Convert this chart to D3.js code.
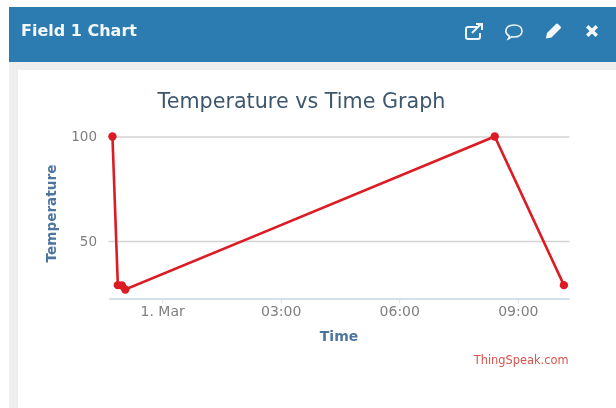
<!DOCTYPE html>
<html>
<head>
<meta charset="utf-8">
<script src="https://cdn.jsdelivr.net/npm/d3@7"></script>
<style>
html, body { margin: 0; padding: 0; background: #fff; overflow: hidden; }
svg { display: block; filter: blur(0.45px); }
text { font-family: "DejaVu Sans", sans-serif; }
</style>
</head>
<body>
<div id="chart"></div>
<script>
"use strict"
var width = 616,
	height = 408;

// values
var times = ["2021-02-28T22:44:30Z","2021-02-28T22:52:40Z","2021-02-28T22:58:50Z","2021-02-28T23:04:00Z","2021-03-01T08:25:00Z","2021-03-01T10:10:00Z"];
var temps = [100,28.8,28.6,26.7,100,28.8];
var yTicks = [50,100];
var xTicks = ["2021-03-01T00:00:00Z","2021-03-01T03:00:00Z","2021-03-01T06:00:00Z","2021-03-01T09:00:00Z"];
var xTickLabels = ["1. Mar","03:00","06:00","09:00"];

var parse = d3.utcParse("%Y-%m-%dT%H:%M:%SZ");

var svg = d3.select("#chart").append("svg")
	.attr("width",width)
	.attr("height",height);

// panel
svg.append("rect").attr("x",9).attr("y",7).attr("width",607).attr("height",401).style("fill","#eeeeee");
svg.append("rect").attr("x",18).attr("y",70).attr("width",598).attr("height",338).style("fill","#fff");
svg.append("rect").attr("x",9).attr("y",7).attr("width",607).attr("height",55).style("fill","#2c7bb1");

svg.append("text")
	.attr("x",21)
	.attr("y",36)
	.style("font-size","16px")
	.style("font-weight","bold")
	.style("fill","#f4f8fb")
	.text("Field 1 Chart");

// header icons
var icons = svg.append("g").style("fill","none").style("stroke","#eef5fa").style("stroke-width",2);
icons.append("path").attr("d","M477 27h-9a2 2 0 0 0 -2 2v8a2 2 0 0 0 2 2h10a2 2 0 0 0 2 -2v-4");
icons.append("path").attr("d","M472 33l9 -9M476 24h6v6");
icons.append("path").attr("d","M514 25c5 0 8 2.600 8 6s-3 6 -8 6c-1 0 -2 0 -2.500 -.2c-1 1 -2 1.800 -3.200 2.200c.6 -1 1 -2 1 -3c-2 -1 -3.500 -3 -3.500 -5c0 -3.400 3.200 -6 8.200 -6z").style("stroke-width",1.6);
var solid = svg.append("g").style("fill","#f4f8fb");
solid.append("path").attr("d","M546 38l1 -5l9 -9a1.500 1.500 0 0 1 2 0l2.500 2.500a1.500 1.500 0 0 1 0 2l-9 9l-5.500 1z");
solid.append("path").attr("d","M588.500 25l3.500 3.500l3.500 -3.500l2.500 2.500l-3.500 3.500l3.500 3.500l-2.500 2.500l-3.500 -3.500l-3.500 3.500l-2.500 -2.500l3.500 -3.500l-3.500 -3.500z");

// scales
var xscale = d3.scaleUtc()
	.domain([parse("2021-02-28T22:38:30Z"),parse("2021-03-01T10:18:30Z")])
	.range([108.5,569.5]);
var yscale = d3.scaleLinear()
	.domain([22.4,100])
	.range([298.5,136.5]);

// gridlines
var yAxis = d3.axisLeft(yscale)
	.tickValues(yTicks)
	.tickSize(-(xscale.range()[1]-xscale.range()[0]))
	.tickPadding(11.5);
var gy = svg.append("g")
	.attr("transform","translate(108.5,0)")
	.call(yAxis);
gy.select(".domain").remove();
gy.selectAll("line").style("stroke","#d2d2d2").style("stroke-width",1.5);
gy.selectAll("text").style("font-size","13.5px").style("fill","#807f7f");

// x axis
var xAxis = d3.axisBottom(xscale)
	.tickValues(xTicks.map(parse))
	.tickFormat(function(d,i) { return xTickLabels[i]; })
	.tickSize(5)
	.tickSizeOuter(0)
	.tickPadding(3);
var gx = svg.append("g")
	.attr("transform","translate(0,298.5)")
	.call(xAxis);
gx.select(".domain").style("stroke","#c5d6e6").style("stroke-width",1.5);
gx.selectAll("line").style("stroke","#d5e1ec");
gx.selectAll("text").style("font-size","14px").style("fill","#807f7f");

// series
var points = times.map(function(t,i) { return {t:parse(t),v:temps[i]}; });
var line = d3.line()
	.x(function(d) { return xscale(d.t); })
	.y(function(d) { return yscale(d.v); });
svg.append("path")
	.datum(points)
	.attr("d",line)
	.style("fill","none")
	.style("stroke","#dc1c24")
	.style("stroke-width",2.6);
svg.selectAll(".pt")
	.data(points)
	.enter().append("circle")
	.attr("class","pt")
	.attr("cx",function(d) { return xscale(d.t); })
	.attr("cy",function(d) { return yscale(d.v); })
	.attr("r",4.2)
	.style("fill","#dc1c24");

// titles
svg.append("text")
	.attr("x",301.5)
	.attr("y",108)
	.attr("text-anchor","middle")
	.style("font-size","20.7px")
	.style("fill","#3e576f")
	.text("Temperature vs Time Graph");
svg.append("text")
	.attr("x",339)
	.attr("y",340.5)
	.attr("text-anchor","middle")
	.style("font-size","14px")
	.style("font-weight","bold")
	.style("fill","#4d759e")
	.text("Time");
svg.append("text")
	.attr("transform","translate(56,213.500) rotate(-90)")
	.attr("text-anchor","middle")
	.style("font-size","13.6px")
	.style("font-weight","bold")
	.style("fill","#4d759e")
	.text("Temperature");
svg.append("text")
	.attr("x",568.5)
	.attr("y",364)
	.attr("text-anchor","end")
	.style("font-size","11.4px")
	.style("fill","#d9534f")
	.text("ThingSpeak.com");
</script>
</body>
</html>
